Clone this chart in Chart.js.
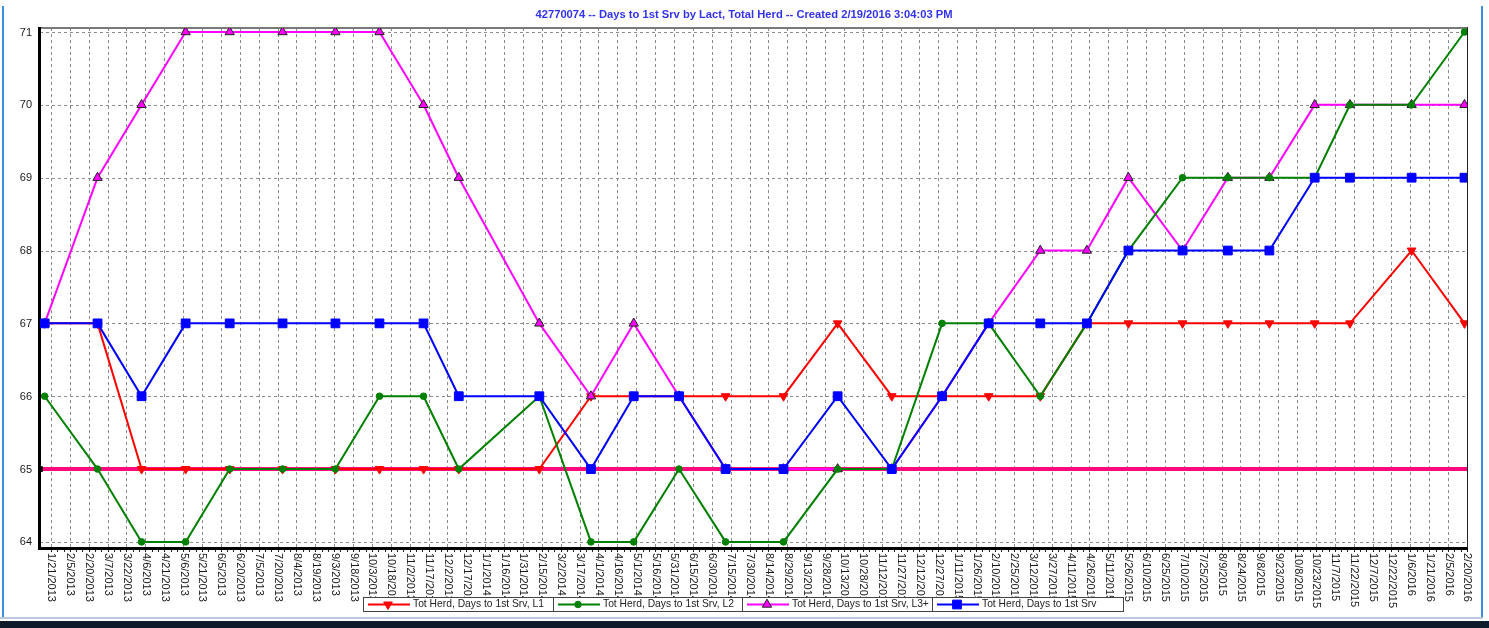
<!DOCTYPE html>
<html><head><meta charset="utf-8">
<script src="https://cdn.jsdelivr.net/npm/chart.js@4.4.1/dist/chart.umd.min.js"></script>
<style>html,body{margin:0;padding:0;background:#fff;overflow:hidden}canvas{display:block}</style>
</head><body>
<canvas id="c" width="1489" height="628"></canvas>
<script>
const titleText = "42770074 -- Days to 1st Srv by Lact, Total Herd -- Created 2/19/2016 3:04:03 PM";
const seriesNames = ["Tot Herd, Days to 1st Srv, L1", "Tot Herd, Days to 1st Srv, L2", "Tot Herd, Days to 1st Srv, L3+", "Tot Herd, Days to 1st Srv"];
const testDates = ["1/16/2013","2/27/2013","4/3/2013","5/8/2013","6/12/2013","7/24/2013","9/4/2013","10/9/2013","11/13/2013","12/11/2013",
  "2/13/2014","3/26/2014","4/29/2014","6/4/2014","7/11/2014","8/26/2014","10/8/2014","11/20/2014","12/30/2014","2/5/2015",
  "3/18/2015","4/24/2015","5/27/2015","7/9/2015","8/14/2015","9/16/2015","10/22/2015","11/19/2015","1/7/2016","2/18/2016"];
const l1Values  = [67,67,65,65,65,65,65,65,65,65, 65,66,66,66,66,66,67,66,66,66, 66,67,67,67,67,67,67,67,68,67];
const l2Values  = [66,65,64,64,65,65,65,66,66,65, 66,64,64,65,64,64,65,65,67,67, 66,67,68,69,69,69,69,70,70,71];
const l3Values  = [67,69,70,71,71,71,71,71,70,69, 67,66,67,66,65,65,65,65,66,67, 68,68,69,68,69,69,70,70,70,70];
const totValues = [67,67,66,67,67,67,67,67,67,66, 66,65,66,66,65,65,66,65,66,67, 67,67,68,68,68,68,69,69,69,69];
const goalValue = 65;
const xTickLabels = ["1/21/2013","2/5/2013","2/20/2013","3/7/2013","3/22/2013","4/6/2013","4/21/2013","5/6/2013","5/21/2013","6/5/2013",
  "6/20/2013","7/5/2013","7/20/2013","8/4/2013","8/19/2013","9/3/2013","9/18/2013","10/3/2013","10/18/2013","11/2/2013",
  "11/17/2013","12/2/2013","12/17/2013","1/1/2014","1/16/2014","1/31/2014","2/15/2014","3/2/2014","3/17/2014","4/1/2014",
  "4/16/2014","5/1/2014","5/16/2014","5/31/2014","6/15/2014","6/30/2014","7/15/2014","7/30/2014","8/14/2014","8/29/2014",
  "9/13/2014","9/28/2014","10/13/2014","10/28/2014","11/12/2014","11/27/2014","12/12/2014","12/27/2014","1/11/2015","1/26/2015",
  "2/10/2015","2/25/2015","3/12/2015","3/27/2015","4/11/2015","4/26/2015","5/11/2015","5/26/2015","6/10/2015","6/25/2015",
  "7/10/2015","7/25/2015","8/9/2015","8/24/2015","9/8/2015","9/23/2015","10/8/2015","10/23/2015","11/7/2015","11/22/2015",
  "12/7/2015","12/22/2015","1/6/2016","1/21/2016","2/5/2016","2/20/2016"];
const yTickValues = [64,65,66,67,68,69,70,71];

function dayNum(s){ const p = s.split('/').map(Number); return Date.UTC(p[2], p[0]-1, p[1]) / 86400000; }
const xTickValues = xTickLabels.map(dayNum);
const xMin = xTickValues[0] - 8.7, xMax = xTickValues[xTickValues.length-1];
const yMin = 63.93, yMax = 71.055;

function pts(vals){ return vals.map((v,i)=>({x: dayNum(testDates[i]), y: v})); }

const colors = ['#ff0000', '#008000', '#ff00ff', '#0000ff'];
const goalColor = '#ff0a7e';

const datasets = [
  { label: seriesNames[3], data: pts(totValues), borderColor: colors[3], backgroundColor: colors[3], borderWidth: 2,
    pointStyle: 'rect', pointRadius: 6.2, pointBorderWidth: 1, pointBorderColor: colors[3], order: 0 },
  { label: seriesNames[1], data: pts(l2Values), borderColor: colors[1], backgroundColor: colors[1], borderWidth: 2,
    pointStyle: 'circle', pointRadius: 3.3, pointBorderWidth: 1, pointBorderColor: colors[1], order: 1 },
  { label: seriesNames[2], data: pts(l3Values), borderColor: colors[2], backgroundColor: colors[2], borderWidth: 2,
    pointStyle: 'triangle', pointRadius: 5.4, pointBorderWidth: 1, pointBorderColor: '#222', order: 2 },
  { label: seriesNames[0], data: pts(l1Values), borderColor: colors[0], backgroundColor: colors[0], borderWidth: 2,
    pointStyle: 'triangle', pointRotation: 180, pointRadius: 5, pointBorderWidth: 1, pointBorderColor: colors[0], order: 3 },
  { label: 'goal', data: [{x: xMin, y: goalValue}, {x: xMax, y: goalValue}], borderColor: goalColor, borderWidth: 4,
    pointStyle: 'rect', pointRadius: [4, 0], pointBackgroundColor: '#000', pointBorderColor: '#000', pointBorderWidth: 0, order: 4 }
];

const FONT = '"Liberation Sans", Arial, sans-serif';

function drawMarker(ctx, idx, x, y){
  const ds = datasets.find(d => d.label === seriesNames[idx]);
  Chart.helpers.drawPoint(ctx, {pointStyle: ds.pointStyle, rotation: ds.pointRotation || 0, radius: ds.pointRadius, borderWidth: ds.pointBorderWidth}, x, y);
}

const deco = {
  id: 'deco',
  beforeDraw(chart){
    const ctx = chart.ctx, W = chart.width, H = chart.height;
    ctx.save();
    ctx.fillStyle = '#fff'; ctx.fillRect(0,0,W,H);
    ctx.fillStyle = '#3b8fe0'; ctx.fillRect(2, 6, 2, 612); ctx.fillRect(1481, 6, 2, 612);
    ctx.fillStyle = '#b9c9da'; ctx.fillRect(0, 617, 1483, 2);
    ctx.fillStyle = '#0d1b2a'; ctx.fillRect(0, 621, W, H-621);
    ctx.fillStyle = '#3333ee'; ctx.font = 'bold 11.2px ' + FONT; ctx.textAlign = 'center'; ctx.textBaseline = 'middle';
    ctx.fillText(titleText, 744, 15);
    ctx.restore();
  },
  beforeDatasetsDraw(chart){
    const ctx = chart.ctx, a = chart.chartArea, xs = chart.scales.x, ys = chart.scales.y;
    ctx.save();
    ctx.strokeStyle = '#8c8c8c'; ctx.lineWidth = 1; ctx.setLineDash([3,3]);
    xTickValues.forEach(v => { const px = Math.round(xs.getPixelForValue(v)) + 0.5;
      ctx.beginPath(); ctx.moveTo(px, a.top); ctx.lineTo(px, a.bottom); ctx.stroke(); });
    yTickValues.forEach(v => { const py = Math.round(ys.getPixelForValue(v)) + 0.5;
      ctx.beginPath(); ctx.moveTo(a.left, py); ctx.lineTo(a.right, py); ctx.stroke(); });
    ctx.setLineDash([]);
    ctx.fillStyle = '#7a7a7a'; ctx.fillRect(a.left, a.top - 1, a.right - a.left, 2);
    ctx.fillStyle = '#000'; ctx.fillRect(a.left - 2, a.top - 1, 3, a.bottom - a.top + 3);
    ctx.fillRect(a.left - 2, a.bottom, a.right - a.left + 3, 3);
    ctx.fillStyle = '#222'; ctx.fillRect(a.right, a.top - 1, 1, a.bottom - a.top + 2);
    for (let d = xTickValues[0]; d <= xMax; d += 5) {
      const px = Math.round(xs.getPixelForValue(d));
      ctx.fillRect(px, a.bottom + 3, 1, 2);
    }
    ctx.restore();
  },
  afterDatasetsDraw(chart){
    const ctx = chart.ctx, a = chart.chartArea, xs = chart.scales.x, ys = chart.scales.y;
    ctx.save();
    ctx.fillStyle = '#1a1a1a'; ctx.font = '11px ' + FONT; ctx.textAlign = 'right'; ctx.textBaseline = 'middle';
    yTickValues.forEach(v => ctx.fillText(String(v), 32, ys.getPixelForValue(v) + 0.5));
    ctx.textAlign = 'left';
    xTickValues.forEach((v, i) => {
      const px = xs.getPixelForValue(v);
      ctx.save(); ctx.translate(px + 0.5, a.bottom + 6); ctx.rotate(Math.PI / 2);
      ctx.fillText(xTickLabels[i], 0, 0); ctx.restore();
    });
    const L = 363, R = 1123, T = 597, B = 611, cells = [363, 553, 742, 932, 1123];
    ctx.fillStyle = '#fff'; ctx.fillRect(L, T, R - L, B - T);
    ctx.strokeStyle = '#444'; ctx.lineWidth = 1;
    ctx.strokeRect(L + 0.5, T + 0.5, R - L, B - T);
    for (let k = 1; k < 4; k++) { ctx.beginPath(); ctx.moveTo(cells[k] + 0.5, T); ctx.lineTo(cells[k] + 0.5, B); ctx.stroke(); }
    const yc = (T + B) / 2 + 0.5;
    for (let k = 0; k < 4; k++) {
      const cx = cells[k];
      ctx.strokeStyle = colors[k]; ctx.lineWidth = 2;
      ctx.beginPath(); ctx.moveTo(cx + 5, yc); ctx.lineTo(cx + 47, yc); ctx.stroke();
      ctx.fillStyle = colors[k]; ctx.strokeStyle = k === 2 ? '#222' : colors[k]; ctx.lineWidth = 1;
      drawMarker(ctx, k, cx + 25, yc);
      ctx.fillStyle = '#222'; ctx.font = '10.3px ' + FONT; ctx.textAlign = 'left'; ctx.textBaseline = 'middle';
      ctx.fillText(seriesNames[k], cx + 50, yc);
    }
    ctx.restore();
  }
};

new Chart(document.getElementById('c'), {
  type: 'line',
  data: { datasets },
  options: {
    responsive: false, animation: false, devicePixelRatio: 1,
    layout: { padding: { left: 40, top: 28, right: 22, bottom: 81 } },
    plugins: { legend: { display: false }, title: { display: false }, tooltip: { enabled: false } },
    elements: { line: { tension: 0 } },
    scales: {
      x: { type: 'linear', display: false, min: xMin, max: xMax,
           afterBuildTicks: s => { s.ticks = xTickValues.map(v => ({ value: v })); } },
      y: { type: 'linear', display: false, min: yMin, max: yMax,
           afterBuildTicks: s => { s.ticks = yTickValues.map(v => ({ value: v })); } }
    }
  },
  plugins: [deco]
});
</script>
</body></html>
